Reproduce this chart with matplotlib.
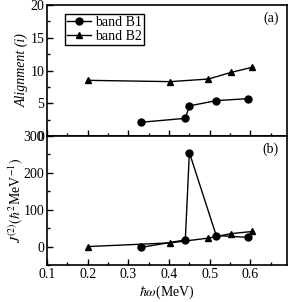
import matplotlib
matplotlib.use('Agg')
from matplotlib import pyplot as plt
from matplotlib.ticker import MultipleLocator

# band B1 (circles) and band B2 (triangles)
w_b1 = [0.332, 0.440, 0.450, 0.516, 0.593]
al_b1 = [2.1, 2.7, 4.6, 5.4, 5.7]
j2_b1 = [-2, 18, 255, 30, 25]

w_b2 = [0.200, 0.403, 0.497, 0.552, 0.605]
al_b2 = [8.5, 8.3, 8.7, 9.7, 10.5]
j2_b2 = [0, 10, 23, 35, 41]

plt.rcParams['font.family'] = ['Liberation Serif', 'DejaVu Serif']
plt.rcParams['mathtext.fontset'] = 'stix'
plt.rcParams['font.size'] = 10
plt.rcParams['axes.linewidth'] = 1.2

fig = plt.figure(figsize=(2.92, 3.02), dpi=100)
ax1 = fig.add_axes([47/292, 1-136/302, 240/292, 131/302])
ax2 = fig.add_axes([47/292, 1-265/302, 240/292, 129/302])

ax1.plot(w_b1, al_b1, 'k-o', ms=5, lw=1, label='band B1')
ax1.plot(w_b2, al_b2, 'k-^', ms=5, lw=1, label='band B2')
ax2.plot(w_b1, j2_b1, 'k-o', ms=5, lw=1)
ax2.plot(w_b2, j2_b2, 'k-^', ms=5, lw=1)

ax1.set_ylim(0, 20)
ax2.set_ylim(-50, 300)
for ax in (ax1, ax2):
    ax.set_xlim(0.1, 0.69)
    ax.xaxis.set_major_locator(MultipleLocator(0.1))
    ax.xaxis.set_minor_locator(MultipleLocator(0.05))
    ax.tick_params(which='both', direction='in', top=False, right=False,
                   labelsize=10, width=1, pad=2)
    ax.tick_params(which='major', length=4)
    ax.tick_params(which='minor', length=2.5)
ax1.yaxis.set_major_locator(MultipleLocator(5))
ax1.yaxis.set_minor_locator(MultipleLocator(2.5))
ax2.yaxis.set_major_locator(MultipleLocator(100))
ax2.yaxis.set_minor_locator(MultipleLocator(50))
ax1.set_xticklabels([])

ax1.set_ylabel('Alignment (i)', style='italic', labelpad=1)
ax2.set_ylabel(r'$J^{(2)}(\hbar^2$MeV$^{-1})$', labelpad=-1)
ax2.set_xlabel(r'$\hbar\omega$(MeV)', labelpad=2)

ax1.text(0.965, 0.95, '(a)', transform=ax1.transAxes, ha='right', va='top')
ax2.text(0.965, 0.95, '(b)', transform=ax2.transAxes, ha='right', va='top')

leg = ax1.legend(loc='upper left', bbox_to_anchor=(0.075, 0.93), fancybox=False,
                 edgecolor='black', fontsize=10, handlelength=1.7, handletextpad=0.3,
                 borderpad=0.15, labelspacing=0.05, borderaxespad=0, framealpha=1)
leg.get_frame().set_linewidth(1)

fig.savefig('out.png', dpi=100)
